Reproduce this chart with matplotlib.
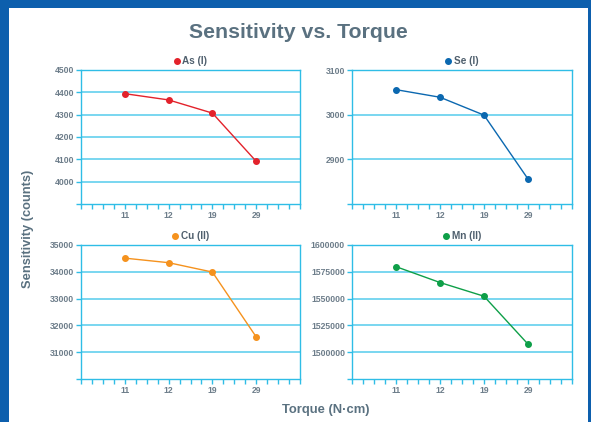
import matplotlib
matplotlib.use("Agg")
import matplotlib.pyplot as plt
import numpy as np
from matplotlib.lines import Line2D
from matplotlib.patches import Rectangle

torque = ["11", "12", "19", "29"]

as_vals = [4394, 4366, 4307, 4091]
se_vals = [3056, 3039, 2999, 2856]
cu_vals = [34510, 34340, 33990, 31570]
mn_vals = [1579800, 1565000, 1552200, 1507500]

series = [
    ("As (I)", as_vals, "#e3222b", (3900, 4500), [4000, 4100, 4200, 4300, 4400, 4500]),
    ("Se (I)", se_vals, "#0b68b0", (2800, 3100), [2900, 3000, 3100]),
    ("Cu (II)", cu_vals, "#f5921e", (30000, 35000), [31000, 32000, 33000, 34000, 35000]),
    ("Mn (II)", mn_vals, "#0e9f48", (1475000, 1600000), [1500000, 1525000, 1550000, 1575000, 1600000]),
]

plt.rcParams['font.family'] = ['Liberation Sans', 'DejaVu Sans']

W, H = 591, 422
fig = plt.figure(figsize=(W / 100, H / 100), dpi=100)
fig.patch.set_facecolor("#0d5fad")
fig.patches.append(Rectangle((9 / W, 0), (588 - 9) / W, 1 - 8 / H, transform=fig.transFigure,
                             facecolor="white", edgecolor="none", zorder=-5))

cyan = "#2fbde6"
grid_c = "#55cbec"
tick_c = "#6d7d8a"

lefts = [81, 352]
rights = [300, 572]
tops = [70, 245]
bottoms = [204, 379]

for i, (name, vals, col, ylim, yt) in enumerate(series):
    r, c = divmod(i, 2)
    l, rt, t, b = lefts[c], rights[c], tops[r], bottoms[r]
    ax = fig.add_axes([l / W, 1 - b / H, (rt - l) / W, (b - t) / H])
    ax.set_zorder(2)
    ax.set_facecolor("none")
    x = np.arange(1, len(torque) + 1)
    ax.plot(x, vals, color=col, lw=1.0, marker="o", ms=4, zorder=3, clip_on=False)
    ax.set_xlim(0, 5)
    ax.set_ylim(*ylim)
    xt = np.arange(0, 5.001, 0.25)
    ax.set_xticks(xt)
    labs = []
    for v in xt:
        if abs(v - round(v)) < 1e-9 and 1 <= round(v) <= 4:
            labs.append(torque[int(round(v)) - 1])
        else:
            labs.append("")
    ax.set_xticklabels(labs)
    ax.set_yticks([ylim[0]] + yt)
    ax.set_yticklabels([""] + [str(v) for v in yt])
    for v in yt:
        ax.axhline(v, color=grid_c, lw=1.1, zorder=1)
    for s in ax.spines.values():
        s.set_color(cyan)
        s.set_linewidth(1.0)
    ax.tick_params(axis="both", colors=cyan, labelcolor=tick_c, labelsize=6.2, length=3.5, width=1.0, pad=1.5)
    for lab in ax.get_xticklabels() + ax.get_yticklabels():
        lab.set_fontweight("bold")
    h = Line2D([], [], color=col, marker="o", ls="none", ms=4)
    ax.legend([h], [name], loc="lower center", bbox_to_anchor=(0.5, 0.975), frameon=False,
              handlelength=0.6, handletextpad=0.3, borderpad=0.2,
              prop={"weight": "bold", "size": 7.2}, labelcolor="#4f5f6d")

fig.text(298.5 / W, 1 - 33 / H, "Sensitivity vs. Torque", ha="center", va="center",
         fontsize=15.3, fontweight="bold", color="#5a7180")
fig.text(28 / W, 1 - 229 / H, "Sensitivity (counts)", ha="center", va="center", rotation=90,
         fontsize=9.3, fontweight="bold", color="#5a7180")
fig.text(326 / W, 1 - 410 / H, "Torque (N·cm)", ha="center", va="center",
         fontsize=9.4, fontweight="bold", color="#5a7180")

fig.savefig("out.png", dpi=100, facecolor=fig.get_facecolor())
